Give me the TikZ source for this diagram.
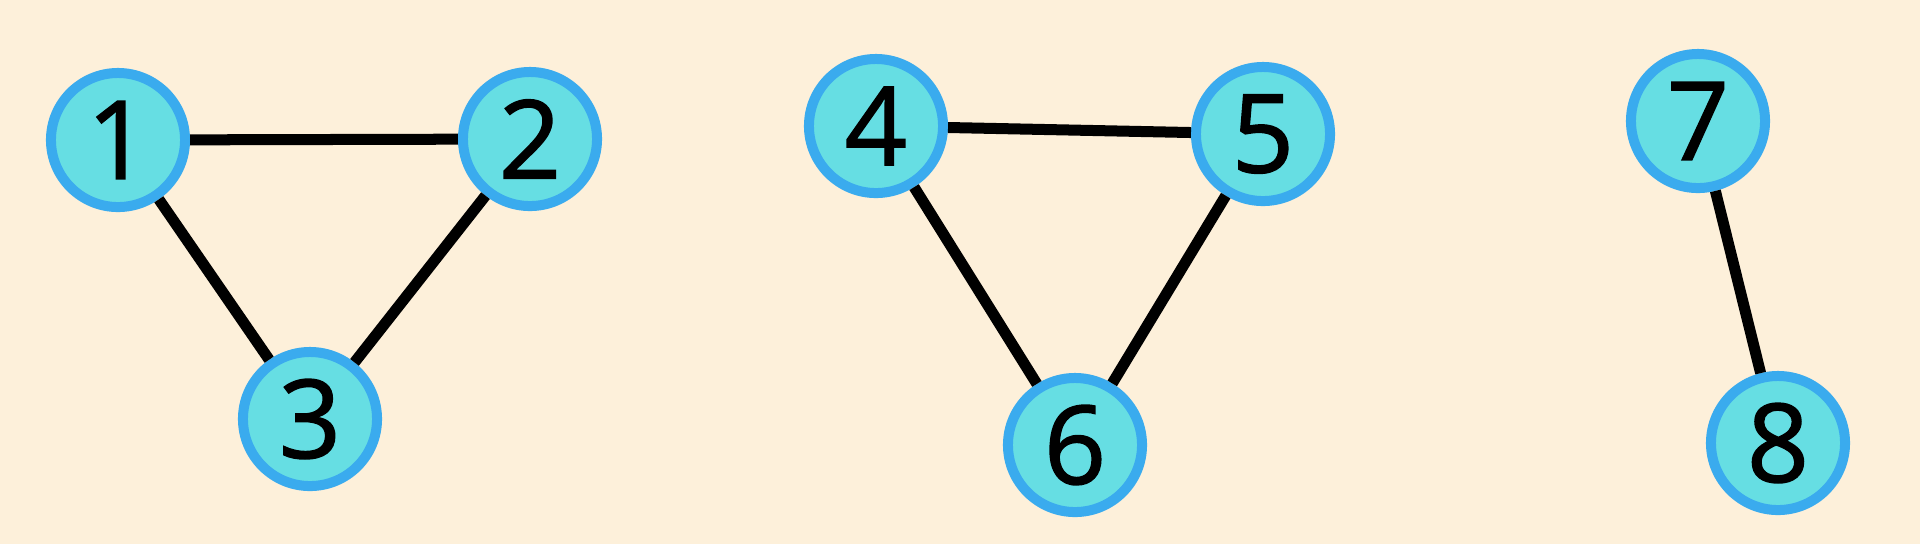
\documentclass[tikz,border=0pt]{standalone}
\usepackage{fontspec}
\setmainfont{Open Sans}
\newfontfamily\numfont{Open Sans}[FakeBold=1.3]
\usetikzlibrary{positioning}
\definecolor{paper}{RGB}{253,240,218}
\definecolor{vfill}{RGB}{102,222,227}
\definecolor{vline}{RGB}{58,171,238}

\begin{document}
\begin{tikzpicture}[x=0.01cm, y=-0.01cm,
  vtx/.style={circle, draw=vline, fill=vfill, line width=0.1cm,
              minimum size=1.34cm, inner sep=0pt, font=\numfont\fontsize{31}{31}\selectfont},
  link/.style={line width=0.11cm, black}
]
% ── Background ────────────────────────
\fill[paper] (0,0) rectangle (1920,544);
\useasboundingbox (0,0) rectangle (1920,544);
% ── Component 1 ───────────────────────
\node[vtx] (n1) at (118,140) {1};
\node[vtx] (n2) at (530,139) {2};
\node[vtx] (n3) at (310,419) {3};
% ── Component 2 ───────────────────────
\node[vtx] (n4) at (876,126) {4};
\node[vtx] (n5) at (1263,134) {5};
\node[vtx] (n6) at (1075,445) {6};
% ── Component 3 ───────────────────────
\node[vtx] (n7) at (1698,121) {7};
\node[vtx] (n8) at (1778,443) {8};
% ── Edges ─────────────────────────────
\foreach \a/\b in {n1/n2, n1/n3, n2/n3, n4/n5, n4/n6, n5/n6, n7/n8}
  \draw[link] (\a) -- (\b);
\end{tikzpicture}
\end{document}
